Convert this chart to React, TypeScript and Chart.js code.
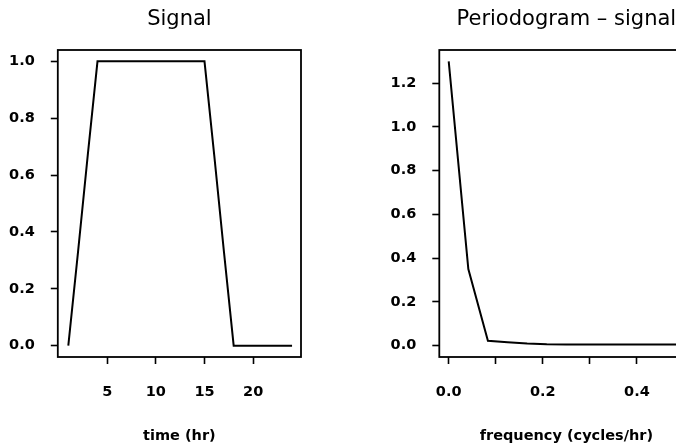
import React, { useEffect, useRef } from "react";
import { Chart, registerables } from "chart.js";

Chart.register(...registerables);

// ---- Data ----
const timeHours = [1, 2, 3, 4, 5, 6, 7, 8, 9, 10, 11, 12, 13, 14, 15, 16, 17, 18, 19, 20, 21, 22, 23, 24];
const signalValues = [0, 0.33, 0.67, 1, 1, 1, 1, 1, 1, 1, 1, 1, 1, 1, 1, 0.67, 0.33, 0, 0, 0, 0, 0, 0, 0];

const frequencies = [0, 0.0417, 0.0833, 0.125, 0.1667, 0.2083, 0.25, 0.2917, 0.3333, 0.375, 0.4167, 0.4583, 0.5];
const periodogramValues = [1.3, 0.35, 0.022, 0.016, 0.01, 0.006, 0.005, 0.005, 0.005, 0.005, 0.005, 0.005, 0.005];

const signalXTicks = [5, 10, 15, 20];
const signalYTicks = [0, 0.2, 0.4, 0.6, 0.8, 1.0];
const periodXTicks = [0, 0.1, 0.2, 0.3, 0.4, 0.5];
const periodXLabeled = [0, 0.2, 0.4];
const periodYTicks = [0, 0.2, 0.4, 0.6, 0.8, 1.0, 1.2];

const FONT = "'DejaVu Sans', sans-serif";

const boxPlugin = {
  id: "boxFrame",
  afterDraw(chart: any) {
    const { ctx, chartArea } = chart;
    const { left, top, right, bottom } = chartArea;
    ctx.save();
    ctx.strokeStyle = "#000";
    ctx.lineWidth = 1.8;
    ctx.strokeRect(left, top, right - left, bottom - top);
    ctx.restore();
  },
};

function makeConfig(opts: {
  xs: number[];
  ys: number[];
  title: string;
  xTitle: string;
  xMin: number;
  xMax: number;
  yMin: number;
  yMax: number;
  xTicks: number[];
  yTicks: number[];
  xLabel: (v: number) => string;
  yAxisWidth: number;
  rightPad: number;
}) {
  const tickFont = { family: FONT, size: 14.5, weight: "bold" as const };
  return {
    type: "line" as const,
    data: {
      datasets: [
        {
          data: opts.xs.map((x, i) => ({ x, y: opts.ys[i] })),
          borderColor: "#000",
          borderWidth: 2,
          pointRadius: 0,
          tension: 0,
          fill: false,
        },
      ],
    },
    options: {
      animation: false as const,
      responsive: false,
      events: [],
      layout: { padding: { left: 0, right: opts.rightPad, top: 0, bottom: 0 } },
      plugins: {
        legend: { display: false },
        tooltip: { enabled: false },
        title: {
          display: true,
          text: opts.title,
          fullSize: false,
          color: "#000",
          font: { family: FONT, size: 21, weight: "normal" as const },
          padding: { top: 7, bottom: 17.8 },
        },
      },
      scales: {
        x: {
          type: "linear" as const,
          min: opts.xMin,
          max: opts.xMax,
          border: { display: false },
          grid: { drawOnChartArea: false, drawTicks: true, tickLength: 7, tickWidth: 1.6, tickColor: "#000" },
          afterBuildTicks: (scale: any) => {
            scale.ticks = opts.xTicks.map((v) => ({ value: v }));
          },
          afterFit: (scale: any) => {
            scale.height = 89;
          },
          ticks: {
            autoSkip: false,
            maxRotation: 0,
            padding: 20,
            color: "#000",
            font: tickFont,
            callback: (v: any) => opts.xLabel(Number(v)),
          },
          title: {
            display: true,
            text: opts.xTitle,
            color: "#000",
            font: tickFont,
            padding: { top: 0, bottom: 1 },
          },
        },
        y: {
          type: "linear" as const,
          min: opts.yMin,
          max: opts.yMax,
          border: { display: false },
          grid: { drawOnChartArea: false, drawTicks: true, tickLength: 7, tickWidth: 1.6, tickColor: "#000" },
          afterBuildTicks: (scale: any) => {
            scale.ticks = opts.yTicks.map((v) => ({ value: v }));
          },
          afterFit: (scale: any) => {
            scale.width = opts.yAxisWidth;
          },
          ticks: {
            autoSkip: false,
            padding: 16,
            color: "#000",
            font: tickFont,
            callback: (v: any) => Number(v).toFixed(1),
          },
        },
      },
    },
    plugins: [boxPlugin],
  };
}

function ChartCanvas({ config, width, height, left }: { config: any; width: number; height: number; left: number }) {
  const ref = useRef<HTMLCanvasElement | null>(null);
  useEffect(() => {
    if (!ref.current) return;
    const chart = new Chart(ref.current, config);
    return () => chart.destroy();
  }, [config]);
  return (
    <canvas
      ref={ref}
      width={width}
      height={height}
      style={{ position: "absolute", left, top: 0, width, height }}
    />
  );
}

const signalConfig = makeConfig({
  xs: timeHours,
  ys: signalValues,
  title: "Signal",
  xTitle: "time (hr)",
  xMin: -0.08,
  xMax: 24.92,
  yMin: -0.04,
  yMax: 1.04,
  xTicks: signalXTicks,
  yTicks: signalYTicks,
  xLabel: (v) => String(v),
  yAxisWidth: 57.8,
  rightPad: 39,
});

const periodConfig = makeConfig({
  xs: frequencies,
  ys: periodogramValues,
  title: "Periodogram \u2013 signal",
  xTitle: "frequency (cycles/hr)",
  xMin: -0.02,
  xMax: 0.52,
  yMin: -0.052,
  yMax: 1.352,
  xTicks: periodXTicks,
  yTicks: periodYTicks,
  xLabel: (v) => (periodXLabeled.some((t) => Math.abs(t - v) < 1e-6) ? v.toFixed(1) : ""),
  yAxisWidth: 99.3,
  rightPad: 46.6,
});

export default function App() {
  return (
    <div
      style={{
        position: "fixed",
        left: 0,
        top: 0,
        width: 676,
        height: 446,
        overflow: "hidden",
        background: "#fff",
      }}
    >
      <ChartCanvas config={signalConfig} width={340} height={446} left={0} />
      <ChartCanvas config={periodConfig} width={400} height={446} left={340} />
    </div>
  );
}
